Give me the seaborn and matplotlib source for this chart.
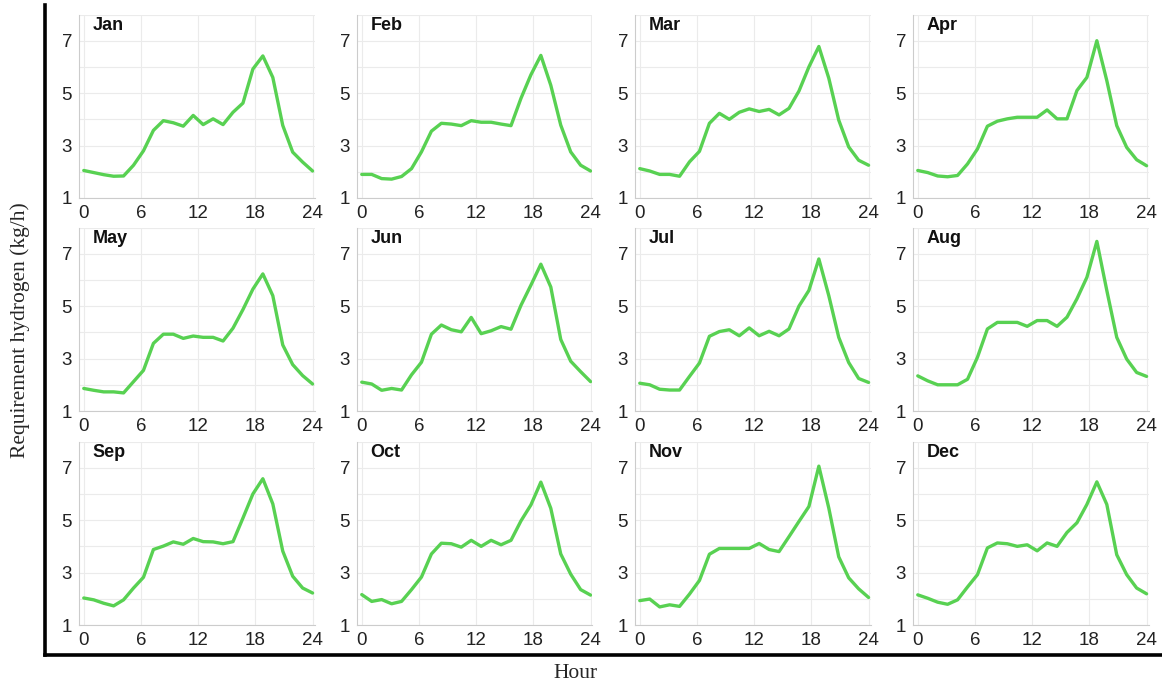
import numpy as np
import pandas as pd
import matplotlib
matplotlib.use("Agg")
import matplotlib.pyplot as plt
import seaborn as sns
from matplotlib.ticker import MultipleLocator

# 24 samples spread over the 0-24 h axis
hours = np.linspace(0, 24, 24)
months = ["Jan", "Feb", "Mar", "Apr", "May", "Jun",
          "Jul", "Aug", "Sep", "Oct", "Nov", "Dec"]

jan = [2.05, 1.97, 1.89, 1.83, 1.84, 2.25, 2.80, 3.58, 3.95, 3.87, 3.74, 4.15,
       3.80, 4.02, 3.80, 4.27, 4.62, 5.92, 6.42, 5.60, 3.77, 2.75, 2.37, 2.03]
feb = [1.90, 1.90, 1.74, 1.72, 1.82, 2.12, 2.76, 3.55, 3.85, 3.82, 3.76, 3.95,
       3.89, 3.89, 3.82, 3.76, 4.80, 5.70, 6.44, 5.30, 3.78, 2.76, 2.25, 2.03]
mar = [2.12, 2.03, 1.90, 1.90, 1.83, 2.38, 2.78, 3.85, 4.23, 4.00, 4.27, 4.40,
       4.30, 4.38, 4.17, 4.42, 5.08, 6.00, 6.78, 5.57, 3.97, 2.95, 2.44, 2.25]
apr = [2.05, 1.97, 1.84, 1.81, 1.86, 2.30, 2.87, 3.74, 3.93, 4.02, 4.08, 4.08,
       4.08, 4.36, 4.02, 4.02, 5.10, 5.60, 7.00, 5.48, 3.76, 2.93, 2.46, 2.23]
may = [1.86, 1.79, 1.73, 1.73, 1.69, 2.12, 2.55, 3.58, 3.93, 3.93, 3.77, 3.86,
       3.81, 3.81, 3.67, 4.16, 4.87, 5.65, 6.23, 5.40, 3.52, 2.77, 2.35, 2.03]
jun = [2.10, 2.03, 1.79, 1.86, 1.80, 2.38, 2.86, 3.93, 4.28, 4.10, 4.02, 4.57,
       3.95, 4.06, 4.22, 4.12, 5.03, 5.80, 6.60, 5.73, 3.73, 2.90, 2.50, 2.12]
jul = [2.06, 2.00, 1.83, 1.80, 1.80, 2.32, 2.83, 3.85, 4.03, 4.10, 3.87, 4.17,
       3.87, 4.04, 3.87, 4.13, 5.00, 5.60, 6.80, 5.40, 3.81, 2.85, 2.24, 2.09]
aug = [2.34, 2.15, 2.00, 2.00, 2.00, 2.21, 3.05, 4.13, 4.38, 4.38, 4.38, 4.23,
       4.45, 4.45, 4.23, 4.58, 5.28, 6.10, 7.47, 5.60, 3.81, 2.98, 2.47, 2.32]
sep = [2.03, 1.96, 1.83, 1.73, 1.96, 2.41, 2.82, 3.88, 4.01, 4.17, 4.08, 4.30,
       4.18, 4.17, 4.10, 4.18, 5.08, 6.00, 6.58, 5.62, 3.82, 2.86, 2.41, 2.22]
oct_ = [2.16, 1.90, 1.97, 1.81, 1.90, 2.35, 2.83, 3.71, 4.12, 4.10, 3.97, 4.23,
        4.00, 4.23, 4.06, 4.23, 4.97, 5.58, 6.45, 5.45, 3.71, 2.94, 2.35, 2.14]
nov = [1.93, 1.99, 1.69, 1.77, 1.71, 2.18, 2.70, 3.70, 3.92, 3.92, 3.92, 3.92,
       4.11, 3.88, 3.80, 4.37, 4.95, 5.52, 7.06, 5.46, 3.60, 2.80, 2.38, 2.05]
dec = [2.15, 2.02, 1.87, 1.79, 1.96, 2.45, 2.92, 3.94, 4.13, 4.10, 4.00, 4.06,
       3.83, 4.13, 4.00, 4.53, 4.90, 5.60, 6.46, 5.60, 3.68, 2.92, 2.41, 2.19]

values = [jan, feb, mar, apr, may, jun, jul, aug, sep, oct_, nov, dec]

# long table for seaborn
df = pd.DataFrame({
    "hour": np.tile(hours, 12),
    "h2": np.concatenate(values),
    "month": np.repeat(months, 24),
})

sns.set_style("whitegrid")
plt.rcParams['font.family'] = ['Liberation Sans', 'DejaVu Sans']

W, H = 1162, 686
fig = plt.figure(figsize=(W / 100, H / 100), dpi=100)

# big black L frame around the grid of panels
frame = fig.add_axes([45 / W, 1 - 655 / H, 1 - 45 / W, 650 / H])
frame.set_facecolor("none")
frame.grid(False)
frame.set_xticks([])
frame.set_yticks([])
for s in ["top", "right"]:
    frame.spines[s].set_visible(False)
for s in ["left", "bottom"]:
    frame.spines[s].set_color("black")
    frame.spines[s].set_linewidth(2.6)

fig.text(575 / W, 1 - 674 / H, "Hour", ha="center", va="center",
         family="Liberation Serif", fontsize=15.5)
fig.text(20 / W, 1 - 330 / H, "Requirement hydrogen (kg/h)", ha="center",
         va="center", rotation=90, family="Liberation Serif", fontsize=15.5)

lefts = [79, 357, 635, 913]
bottoms = [198, 411, 625]
aw, ah = 235.5, 183.5
green = "#58d152"

for k, m in enumerate(months):
    r, c = divmod(k, 4)
    ax = fig.add_axes([lefts[c] / W, 1 - bottoms[r] / H, aw / W, ah / H])
    sub = df[df["month"] == m]
    sns.lineplot(data=sub, x="hour", y="h2", ax=ax, color=green, linewidth=2.4)
    ax.set_xlim(-0.5, 24.2)
    ax.set_ylim(1, 8)
    ax.set_xticks([0, 6, 12, 18, 24])
    ax.set_yticks([1, 3, 5, 7])
    ax.xaxis.set_minor_locator(MultipleLocator(1))
    ax.yaxis.set_minor_locator(MultipleLocator(1))
    ax.grid(False)
    ax.grid(True, axis="x", which="major", color="#ebebeb", linewidth=0.8)
    ax.grid(True, axis="y", which="both", color="#ebebeb", linewidth=0.8)
    ax.set_xlabel("")
    ax.set_ylabel("")
    ax.tick_params(axis="both", which="major", labelsize=13.5, labelcolor="#222222",
                   direction="in", length=4, color="#bbbbbb", pad=5)
    ax.tick_params(axis="both", which="minor", direction="in", length=3,
                   color="#cccccc")
    for s in ["top", "right"]:
        ax.spines[s].set_visible(False)
    for s in ["left", "bottom"]:
        ax.spines[s].set_color("#cccccc")
        ax.spines[s].set_linewidth(0.8)
    ax.text(0.9, 7.58, m, fontsize=13, fontweight="bold", ha="left",
            va="center", color="#111111")

fig.savefig("out.png", dpi=100)
